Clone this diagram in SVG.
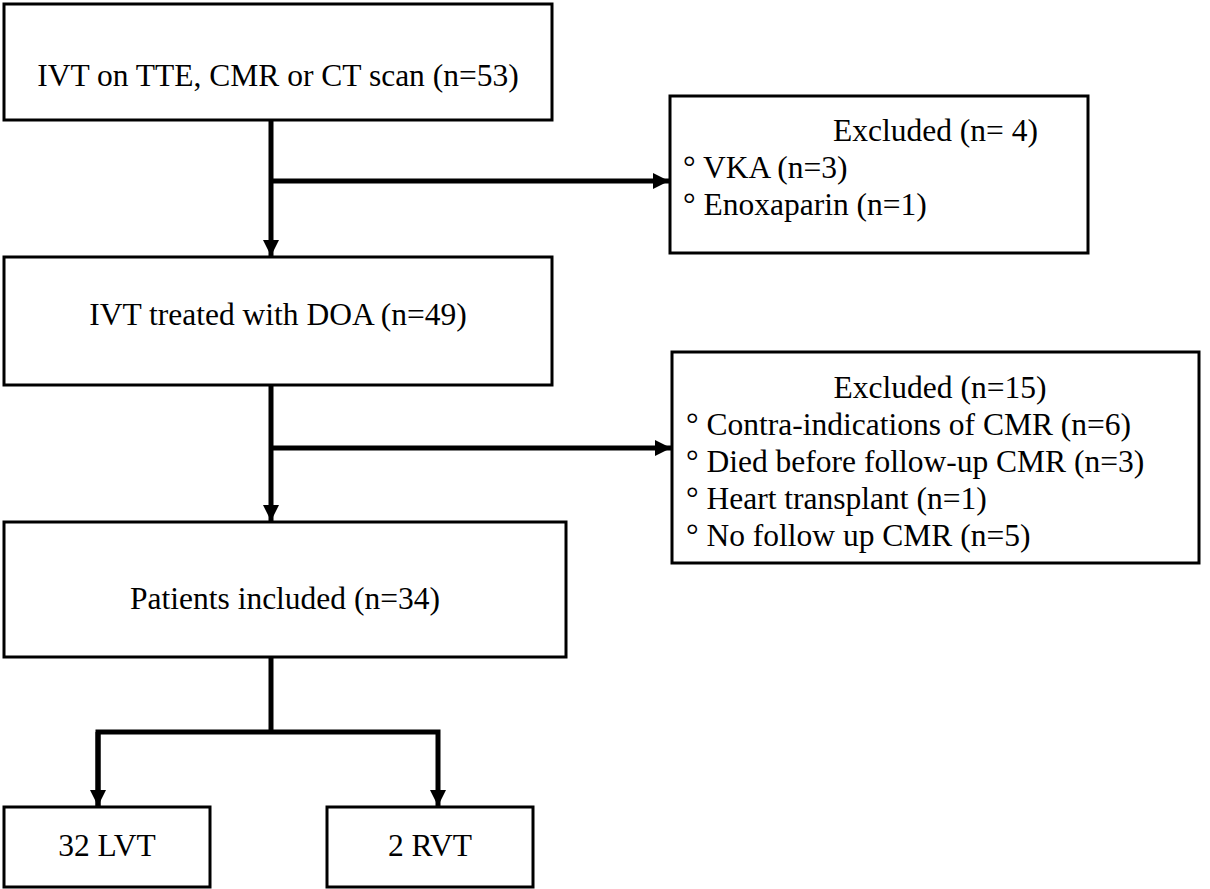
<svg xmlns="http://www.w3.org/2000/svg" width="1210" height="889" viewBox="0 0 1210 889">
<style>
.box{fill:#fff;stroke:#000;stroke-width:3}
.t{font-family:"Liberation Serif","Times New Roman",serif;font-size:31.5px;fill:#000}
.c{text-anchor:middle}
.ln{fill:none;stroke:#000;stroke-width:5}
</style>
<defs>
<marker id="ah" viewBox="0 0 16 16" refX="16" refY="8" markerWidth="16" markerHeight="16" markerUnits="userSpaceOnUse" orient="auto">
<path d="M0,0 L16,8 L0,16 Z" fill="#000"/>
</marker>
</defs>
<rect width="1210" height="889" fill="#fff"/>
<g id="connectors">
<line class="ln" x1="271" y1="120" x2="271" y2="256" marker-end="url(#ah)"/>
<line class="ln" x1="271" y1="181" x2="669" y2="181" marker-end="url(#ah)"/>
<line class="ln" x1="271" y1="385" x2="271" y2="521" marker-end="url(#ah)"/>
<line class="ln" x1="271" y1="448" x2="671" y2="448" marker-end="url(#ah)"/>
<line class="ln" x1="271" y1="657" x2="271" y2="732"/>
<polyline class="ln" points="98,806 98,732 438,732 438,806" marker-end="url(#ah)"/>
<line class="ln" x1="98" y1="732" x2="98" y2="806" marker-end="url(#ah)"/>
</g>
<g id="n1">
<rect class="box" x="4" y="4" width="548" height="116"/>
<text class="t c" x="278" y="86">IVT on TTE, CMR or CT scan (n=53)</text>
</g>
<g id="ex1">
<rect class="box" x="670" y="96" width="418" height="157"/>
<text class="t" x="833" y="141">Excluded (n= 4)</text>
<text class="t" x="683" y="178">° VKA (n=3)</text>
<text class="t" x="683" y="215">° Enoxaparin (n=1)</text>
</g>
<g id="n2">
<rect class="box" x="4" y="257" width="548" height="128"/>
<text class="t c" x="278" y="325">IVT treated with DOA (n=49)</text>
</g>
<g id="ex2">
<rect class="box" x="672" y="352" width="527" height="211"/>
<text class="t c" x="940" y="398">Excluded (n=15)</text>
<text class="t" x="686" y="435">° Contra-indications of CMR (n=6)</text>
<text class="t" x="686" y="472">° Died before follow-up CMR (n=3)</text>
<text class="t" x="686" y="509">° Heart transplant (n=1)</text>
<text class="t" x="686" y="546">° No follow up CMR (n=5)</text>
</g>
<g id="n3">
<rect class="box" x="4" y="522" width="562" height="135"/>
<text class="t c" x="285" y="609">Patients included (n=34)</text>
</g>
<g id="lvt">
<rect class="box" x="4" y="807" width="206" height="80"/>
<text class="t c" x="107" y="856">32 LVT</text>
</g>
<g id="rvt">
<rect class="box" x="327" y="807" width="206" height="80"/>
<text class="t c" x="430" y="856">2 RVT</text>
</g>
</svg>
